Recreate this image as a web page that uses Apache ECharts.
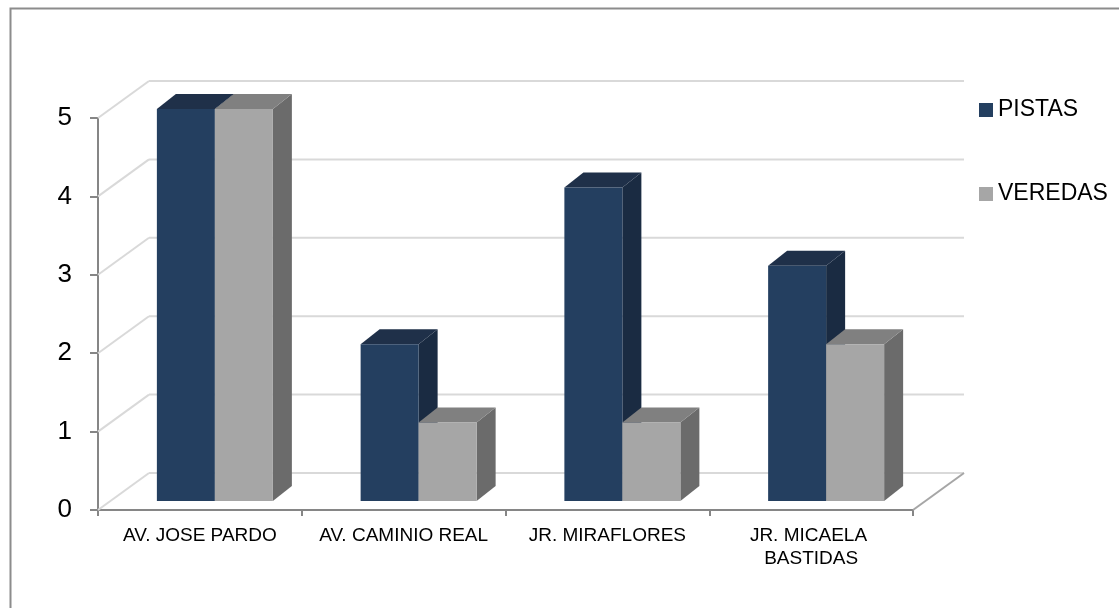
<!DOCTYPE html>
<html>
<head>
<meta charset="utf-8">
<script src="https://cdn.jsdelivr.net/npm/echarts@6/dist/echarts.min.js"></script>
<style>
html,body{margin:0;padding:0;background:#fff;}
#main{width:1119px;height:608px;}
</style>
</head>
<body>
<div id="main"></div>
<script>
var categories = ['AV. JOSE PARDO', 'AV. CAMINIO REAL', 'JR. MIRAFLORES', 'JR. MICAELA BASTIDAS'];
var pistas = [5, 2, 4, 3];
var veredas = [5, 1, 1, 2];
var yTicks = [0, 1, 2, 3, 4, 5];
var seriesNames = ['PISTAS', 'VEREDAS'];

var FONT = '"Liberation Sans Narrow", "Liberation Sans", Arial, sans-serif';
var BACK_DX = 51, BACK_DY = -37;   // back wall offset
var BAR_DX = 15, BAR_DY = -9;      // bar front plane offset
var DEPTH_DX = 19, DEPTH_DY = -15; // bar depth
var BAR_W = 58;

var palette = [
  {front: '#243F60', top: '#1F3049', side: '#1A2B42'},
  {front: '#A6A6A6', top: '#808080', side: '#6B6B6B'}
];

function barRenderer(sIdx) {
  return function (params, api) {
    var i = api.value(0), v = api.value(1);
    var base = api.coord([i, 0]);
    var top = api.coord([i, v]);
    var x0 = base[0] + BAR_DX - BAR_W + sIdx * BAR_W;
    var x1 = x0 + BAR_W;
    var yb = base[1] + BAR_DY;
    var yt = top[1] + BAR_DY;
    var c = palette[sIdx];
    return {
      type: 'group',
      children: [
        {type: 'polygon', shape: {points: [[x1, yt], [x1 + DEPTH_DX, yt + DEPTH_DY], [x1 + DEPTH_DX, yb + DEPTH_DY], [x1, yb]]}, style: {fill: c.side}},
        {type: 'polygon', shape: {points: [[x0, yt], [x1, yt], [x1 + DEPTH_DX, yt + DEPTH_DY], [x0 + DEPTH_DX, yt + DEPTH_DY]]}, style: {fill: c.top}},
        {type: 'rect', shape: {x: x0, y: yt, width: BAR_W, height: yb - yt}, style: {fill: c.front}}
      ]
    };
  };
}

function wallRenderer(params, api) {
  var cs = params.coordSys;
  var v = api.value(1);
  var y = api.coord([0, v])[1];
  var xl = cs.x, xr = cs.x + cs.width;
  var children = [
    {type: 'line', shape: {x1: xl + BACK_DX, y1: y + BACK_DY, x2: xr + BACK_DX, y2: y + BACK_DY}, style: {stroke: '#d9d9d9', lineWidth: 2}},
    {type: 'line', shape: {x1: xl, y1: y, x2: xl + BACK_DX, y2: y + BACK_DY}, style: {stroke: '#d9d9d9', lineWidth: 2}}
  ];
  if (v === 0) {
    children.push({type: 'line', shape: {x1: xr, y1: y, x2: xr + BACK_DX, y2: y + BACK_DY}, style: {stroke: '#a6a6a6', lineWidth: 2}});
  }
  return {type: 'group', children: children};
}

var chart = echarts.init(document.getElementById('main'));
chart.setOption({
  animation: false,
  backgroundColor: '#ffffff',
  graphic: [{
    type: 'rect', left: 8, top: 6, shape: {width: 1300, height: 800},
    style: {fill: 'none', stroke: '#8c8c8c', lineWidth: 2}, silent: true, z: 100
  }],
  grid: {left: 98, right: 206, top: 118, bottom: 98},
  legend: {
    orient: 'vertical', left: 979, top: 98, padding: 0,
    itemWidth: 14, itemHeight: 14, itemGap: 60, icon: 'rect',
    data: seriesNames,
    textStyle: {fontFamily: FONT, fontSize: 23, color: '#000', lineHeight: 24}
  },
  xAxis: {
    type: 'category', data: categories,
    axisLine: {lineStyle: {color: '#868686', width: 2}},
    axisTick: {show: true, length: 6, alignWithLabel: false, lineStyle: {color: '#868686', width: 2}},
    axisLabel: {
      fontFamily: FONT, fontSize: 19, color: '#000', margin: 14, lineHeight: 23,
      interval: 0, width: 190, overflow: 'break'
    },
    splitLine: {show: false}
  },
  yAxis: {
    type: 'value', min: 0, max: 5, interval: 1,
    axisLine: {show: true, lineStyle: {color: '#868686', width: 2}},
    axisTick: {show: true, length: 8, lineStyle: {color: '#868686', width: 2}},
    axisLabel: {fontFamily: FONT, fontSize: 26, color: '#000', margin: 26},
    splitLine: {show: false}
  },
  series: [
    {
      type: 'custom', name: 'walls', silent: true, z: 1,
      renderItem: wallRenderer,
      data: yTicks.map(function (t) { return [0, t]; })
    },
    {
      type: 'custom', name: seriesNames[0], z: 2,
      itemStyle: {color: palette[0].front},
      renderItem: barRenderer(0),
      data: pistas.map(function (v, i) { return [i, v]; })
    },
    {
      type: 'custom', name: seriesNames[1], z: 3,
      itemStyle: {color: palette[1].front},
      renderItem: barRenderer(1),
      data: veredas.map(function (v, i) { return [i, v]; })
    }
  ]
});
</script>
</body>
</html>
